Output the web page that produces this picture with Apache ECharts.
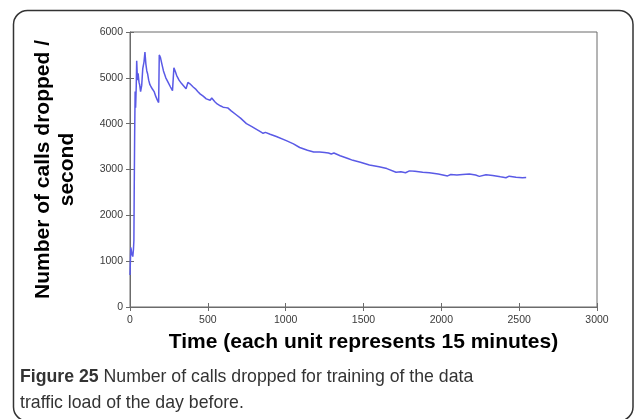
<!DOCTYPE html>
<html>
<head>
<meta charset="utf-8">
<script src="https://cdn.jsdelivr.net/npm/echarts@6/dist/echarts.min.js"></script>
<style>
  html, body { margin: 0; padding: 0; background: #fff; }
  #main { width: 634px; height: 419px; }
</style>
</head>
<body>
<div id="main"></div>
<script>
// time (units of 15 minutes)
const times = [0, 5, 8, 12, 18, 22, 25, 27, 30, 33, 36, 40, 43, 48, 52, 58, 62, 68, 75, 82,
  90, 96, 102, 108, 113, 120, 128, 136, 145, 155, 165, 175, 184, 188, 195, 205, 215, 230, 245, 260,
  273, 278, 282, 290, 300, 315, 330, 345, 360, 367, 372, 376, 385, 395, 406, 420, 435, 450, 470, 490,
  502, 515, 525, 534, 545, 560, 580, 598, 615, 630, 650, 680, 710, 748, 780, 810, 840, 855, 870, 880,
  900, 940, 1004, 1050, 1090, 1140, 1180, 1218, 1250, 1275, 1293, 1310, 1350, 1400, 1432, 1480, 1538, 1600, 1650, 1709,
  1740, 1770, 1795, 1830, 1880, 1923, 1980, 2040, 2061, 2100, 2137, 2180, 2220, 2244, 2287, 2330, 2380, 2415, 2436, 2480,
  2521, 2545]
// calls dropped per second
const dropped = [700, 1300, 1250, 1150, 1100, 1250, 1450, 2500, 3800, 4700, 4350, 4800, 5370, 4950, 5100, 4900, 4850, 4700, 4830, 5200,
  5350, 5560, 5300, 5150, 5090, 4950, 4850, 4800, 4750, 4700, 4600, 4520, 4460, 5500, 5450, 5300, 5150, 5000, 4900, 4800,
  4720, 5000, 5220, 5150, 5050, 4950, 4880, 4820, 4760, 4750, 4900, 4930, 4870, 4840, 4800, 4760, 4700, 4650, 4600, 4540,
  4520, 4510, 4560, 4540, 4480, 4430, 4390, 4360, 4350, 4340, 4280, 4200, 4120, 4000, 3940, 3880, 3820, 3790, 3810, 3800,
  3770, 3720, 3630, 3560, 3480, 3420, 3380, 3380, 3370, 3360, 3340, 3360, 3300, 3240, 3200, 3160, 3100, 3060, 3020, 2940,
  2950, 2930, 2970, 2960, 2940, 2930, 2900, 2860, 2890, 2880, 2890, 2900, 2880, 2850, 2885, 2870, 2840, 2820, 2855, 2830,
  2820, 2825]

const xTitle = 'Time (each unit represents 15 minutes)'
const yTitle = 'Number of calls dropped /\nsecond'

const chart = echarts.init(document.getElementById('main'))

const axisGray = '#6b6b6b'
const font = 'Liberation Sans, Arial, sans-serif'
const tickFont = { color: '#3a3a3a', fontSize: 10.5, fontFamily: font, formatter: v => String(v) }
const innerTick = { inside: true, length: 4, lineStyle: { color: axisGray } }

chart.setOption({
  animation: false,
  grid: { left: 130, right: 37, top: 32, bottom: 112, show: true, borderColor: axisGray, borderWidth: 1 },
  xAxis: [{
    type: 'value', min: 0, max: 3000, interval: 500,
    axisLine: { show: true, lineStyle: { color: axisGray } },
    axisTick: innerTick,
    splitLine: { show: false },
    axisLabel: Object.assign({ margin: 8 }, tickFont),
    name: xTitle, nameLocation: 'middle', nameGap: 25,
    nameTextStyle: { color: '#000', fontSize: 21, fontWeight: 'bold', fontFamily: font }
  }, {
    type: 'value', min: 0, max: 3000, interval: 500, position: 'top',
    axisLine: { show: false }, axisLabel: { show: false }, splitLine: { show: false },
    axisTick: innerTick
  }],
  yAxis: [{
    type: 'value', min: 0, max: 6000, interval: 1000,
    axisLine: { show: true, lineStyle: { color: axisGray } },
    axisTick: innerTick,
    splitLine: { show: false },
    axisLabel: Object.assign({ margin: 7 }, tickFont),
    name: yTitle, nameLocation: 'middle', nameRotate: 90, nameGap: 51,
    nameTextStyle: { color: '#000', fontSize: 21, fontWeight: 'bold', lineHeight: 24, fontFamily: font }
  }, {
    type: 'value', min: 0, max: 6000, interval: 1000, position: 'right',
    axisLine: { show: false }, axisLabel: { show: false }, splitLine: { show: false },
    axisTick: innerTick
  }],
  series: [{
    type: 'line',
    data: times.map((t, i) => [t, dropped[i]]),
    showSymbol: false,
    lineStyle: { color: '#5a5ae6', width: 1.5 },
    xAxisIndex: 0, yAxisIndex: 0
  }],
  graphic: [{
    type: 'rect', silent: true,
    shape: { x: 13.5, y: 10.5, width: 619.5, height: 410.5, r: 14 },
    style: { fill: 'none', stroke: '#333', lineWidth: 1.5 }
  }, {
    type: 'text', left: 20, top: 364,
    style: {
      text: '{b|Figure 25} Number of calls dropped for training of the data\ntraffic load of the day before.',
      fill: '#333', fontSize: 17.7, lineHeight: 26, fontFamily: font,
      rich: { b: { fontWeight: 'bold', fontSize: 17.7, fill: '#333', fontFamily: font } }
    }
  }]
})
</script>
</body>
</html>
